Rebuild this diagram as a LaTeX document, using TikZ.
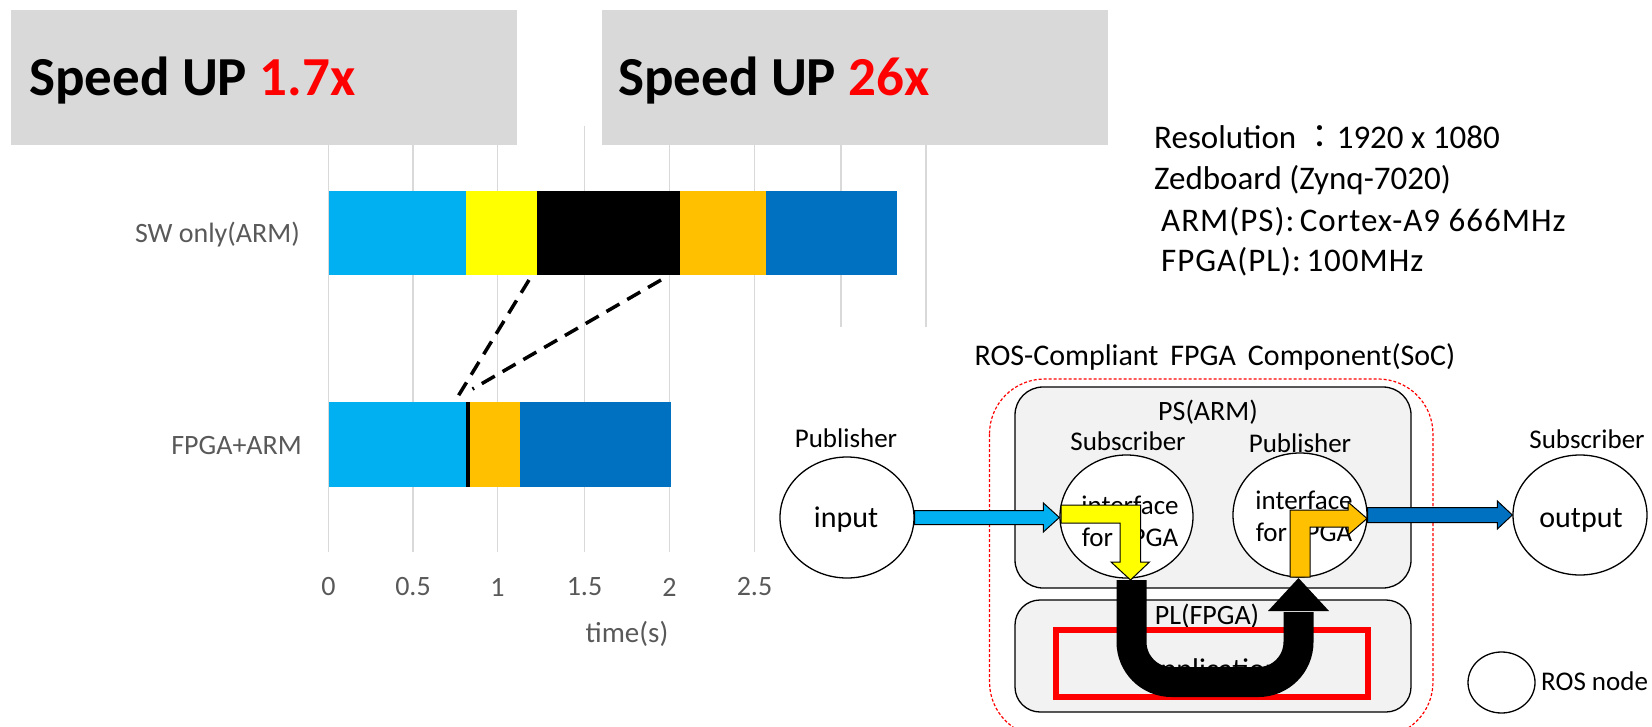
\documentclass[tikz,border=0pt]{standalone}
\usepackage{fontspec}
\setmainfont{Carlito}
\newfontfamily\cjk{Noto Sans CJK JP}
\newfontfamily\spacedfont{Carlito}[LetterSpace=3]
\usetikzlibrary{shapes.geometric,calc}

\definecolor{gridgray}{HTML}{D9D9D9}
\definecolor{bannergray}{HTML}{D9D9D9}
\definecolor{panelgray}{HTML}{F2F2F2}
\definecolor{axisgray}{HTML}{595959}
\definecolor{cyanseg}{HTML}{00B0F0}
\definecolor{yellowseg}{HTML}{FFFF00}
\definecolor{orangeseg}{HTML}{FFC000}
\definecolor{blueseg}{HTML}{0070C0}
\definecolor{hired}{HTML}{FF0000}

\newcommand{\fsz}[1]{\fontsize{#1}{#1}\selectfont}

\begin{document}
\begin{tikzpicture}[x=1pt,y=-1pt,
  banner/.style={fill=bannergray, draw=none},
  speedtxt/.style={anchor=base west, inner sep=0pt, font=\fsz{55}\bfseries},
  gridln/.style={draw=gridgray, line width=1.6pt},
  axislbl/.style={text=axisgray, inner sep=0pt, font=\fsz{28}},
  ticklbl/.style={text=axisgray, inner sep=0pt, font=\fsz{28}},
  zoomln/.style={line width=3.5pt, dash pattern=on 15pt off 9pt},
  infotxt/.style={anchor=base west, inner sep=0pt, font=\fsz{33}},
  lbl/.style={inner sep=0pt, font=\fsz{27}},
  rosnode/.style={ellipse, draw, line width=1.3pt, fill=white, inner sep=0pt},
  panel/.style={draw, line width=1.3pt, fill=panelgray},
  blockarrow/.style={draw, line width=1pt, line join=miter},
]
\useasboundingbox (0,0) rectangle (1652,727);

% ---------------- timing chart ----------------
\foreach \gx in {328.5,413,497.5,584.5,669.5,754.5}
  \draw[gridln] (\gx,126) -- (\gx,552);
\foreach \gx in {841,926}
  \draw[gridln] (\gx,126) -- (\gx,327);

% speed-up banners
\fill[banner] (10.5,10.5) rectangle (517,145);
\fill[banner] (602,10.5) rectangle (1108,145);
\node[speedtxt] (gainA) at (29,96) {Speed UP \textcolor{hired}{1.7x}};
\node[speedtxt] (gainB) at (618,96) {Speed UP \textcolor{hired}{26x}};

% software-only bar
\fill[cyanseg]   (328.5,191) rectangle (465.5,275);
\fill[yellowseg] (465.5,191) rectangle (536.5,275);
\fill[black]     (536.5,191) rectangle (680,275);
\fill[orangeseg] (680,191)   rectangle (765.5,275);
\fill[blueseg]   (765.5,191) rectangle (897,275);

% FPGA-accelerated bar
\fill[cyanseg]   (328.5,402) rectangle (465.5,487);
\fill[black]     (465.5,402) rectangle (470,487);
\fill[orangeseg] (470,402)   rectangle (520,487);
\fill[blueseg]   (520,402)   rectangle (671,487);

% zoom lines from the software stage to the accelerated stage
\coordinate (swcutA) at (529,280);
\coordinate (swcutB) at (661,280);
\coordinate (hwcutA) at (457,398);
\coordinate (hwcutB) at (472.5,389);
\draw[zoomln] (swcutA) -- (hwcutA);
\draw[zoomln] (swcutB) -- (hwcutB);

% category and axis labels
\node[axislbl, anchor=east] (catSW) at (300,235) {SW only(ARM)};
\node[axislbl, anchor=east] (catHW) at (302,446) {FPGA+ARM};
\node[ticklbl] (tk0)  at (328.5,587) {0};
\node[ticklbl] (tk1)  at (413,587)   {0.5};
\node[ticklbl] (tk2)  at (497.5,587) {1};
\node[ticklbl] (tk3)  at (584.5,587) {1.5};
\node[ticklbl] (tk4)  at (669.5,587) {2};
\node[ticklbl] (tk5)  at (754.5,587) {2.5};
\node[axislbl, font=\fsz{29}] (xaxis) at (627,634) {time(s)};

% ---------------- platform info ----------------
\node[infotxt] (infoA) at (1154,149) {Resolution {\cjk ：}1920 x 1080};
\node[infotxt] (infoB) at (1154,190) {Zedboard (Zynq-7020)};
\node[infotxt, font=\fsz{33}\spacedfont] (infoC) at (1161,232) {ARM(PS):\,Cortex-A9 666MHz};
\node[infotxt, font=\fsz{33}\spacedfont] (infoD) at (1161,272) {FPGA(PL):\,100MHz};

% ---------------- ROS-compliant FPGA component ----------------
\node[inner sep=0pt, anchor=base, font=\fsz{30}] (soctitle) at (1215,365)
  {ROS-Compliant\hspace{12pt}FPGA\hspace{12pt}Component(SoC)};
\draw[draw=hired, line width=1.2pt, dash pattern=on 3pt off 2pt, rounded corners=55pt]
  (989.5,379) rectangle (1433,737);

\draw[panel, rounded corners=28pt] (1015,387) rectangle (1411,588);
\draw[panel, rounded corners=25pt] (1015,600) rectangle (1411,712);
\node[lbl, font=\fsz{28}] (pslbl) at (1208,412) {PS(ARM)};
\node[lbl, font=\fsz{28}] (pllbl) at (1207,616) {PL(FPGA)};

\draw[draw=hired, line width=5.5pt] (1056,630) rectangle (1368,697);
\node[inner sep=0pt, font=\fsz{30}] (app) at (1212,671) {Application};

% ROS nodes
\node[rosnode, minimum width=134pt, minimum height=121pt] (in)  at (847,517.5) {};
\node[rosnode, minimum width=133pt, minimum height=123pt] (sub) at (1126.5,516.5) {};
\node[rosnode, minimum width=134pt, minimum height=124pt] (pub) at (1300,515) {};
\node[rosnode, minimum width=134pt, minimum height=120pt] (out) at (1580,515) {};
\node[rosnode, minimum width=67pt, minimum height=61pt] (legend) at (1501.5,682.5) {};

\node[inner sep=0pt, font=\fsz{30}] (intxt)  at (846,520) {input};
\node[inner sep=0pt, font=\fsz{30}] (outtxt) at (1581,520) {output};
\node[inner sep=0pt, align=center, font=\fontsize{27}{32}\selectfont] (subtxt) at (1130,521) {interface\\for FPGA};
\node[inner sep=0pt, align=center, font=\fontsize{27}{32}\selectfont] (pubtxt) at (1304,516) {interface\\for FPGA};
\node[lbl, anchor=west] (legendtxt) at (1541,681) {ROS node};

\node[lbl] (inrole)  at (846,438)  {Publisher};
\node[lbl] (subrole) at (1128,441) {Subscriber};
\node[lbl] (pubrole) at (1300,443) {Publisher};
\node[lbl] (outrole) at (1587,439) {Subscriber};

% topic input -> subscriber interface
\coordinate (inA) at (in.east);
\coordinate (inB) at (in.east -| sub.west);
\draw[blockarrow, fill=cyanseg]
  ($(inA)+(0,-7)$) -- ($(inB)+(-16,-7)$) -- ($(inB)+(-16,-14.5)$) -- (inB)
  -- ($(inB)+(-16,14.5)$) -- ($(inB)+(-16,7)$) -- ($(inA)+(0,7)$) -- cycle;

% publisher interface -> topic output
\coordinate (outA) at (pub.east);
\coordinate (outB) at (pub.east -| out.west);
\draw[blockarrow, fill=blueseg]
  ($(outA)+(0,-7.5)$) -- ($(outB)+(-15,-7.5)$) -- ($(outB)+(-15,-14)$) -- (outB)
  -- ($(outB)+(-15,14)$) -- ($(outB)+(-15,7.5)$) -- ($(outA)+(0,7.5)$) -- cycle;

% bent arrow into the FPGA
\draw[blockarrow, fill=yellowseg]
  (1061,505) -- (1140.5,505) -- (1140.5,562) -- (1149.5,562) -- (1130.5,580)
  -- (1111,562) -- (1120,562) -- (1120,523) -- (1061,523) -- cycle;

% bent arrow out of the FPGA
\draw[blockarrow, fill=orangeseg]
  (1290,577) -- (1290,510) -- (1348,510) -- (1348,502) -- (1367,518.5)
  -- (1348,535) -- (1348,527) -- (1310,527) -- (1310,577) -- cycle;

% U-turn through the programmable logic
\draw[line width=30pt, rounded corners=40pt]
  (1131.5,580) -- (1131.5,682) -- (1298.5,682) -- (1298.5,612);
\fill (1268,611) -- (1329,611) -- (1298.5,578) -- cycle;

\end{tikzpicture}
\end{document}
